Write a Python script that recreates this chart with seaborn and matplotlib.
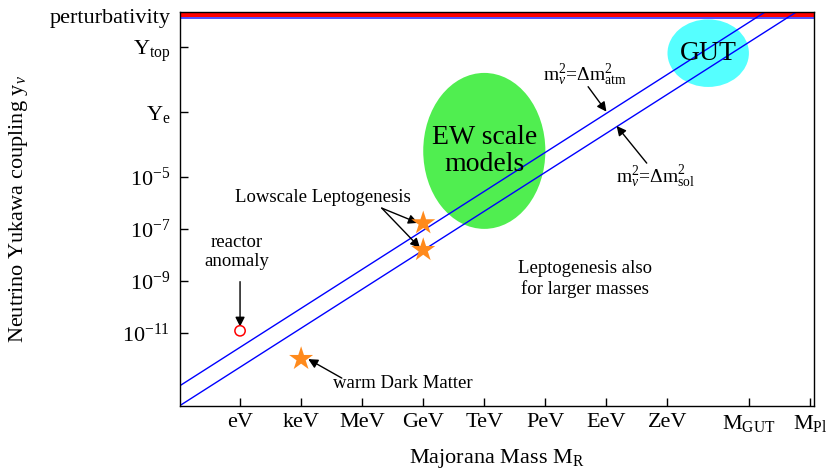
import matplotlib
matplotlib.use("Agg")
import matplotlib.pyplot as plt
import seaborn as sns
import pandas as pd
from matplotlib.patches import Ellipse

# --- data (masses in eV) ---
mass_ticks = [1e0, 1e3, 1e6, 1e9, 1e12, 1e15, 1e18, 1e21, 1e25, 1e28]
mass_labels = ["eV", "keV", "MeV", "GeV", "TeV", "PeV", "EeV", "ZeV",
               r"M$_{\mathrm{GUT}}$", r"M$_{\mathrm{Pl}}$"]
mass_range = [1.12e-3, 1.58e28]

yuk_ticks = [1e-11, 1e-9, 1e-7, 1e-5, 3.2e-3, 1.0, 15.8]
yuk_labels = [r"$10^{-11}$", r"$10^{-9}$", r"$10^{-7}$", r"$10^{-5}$",
              r"Y$_{\mathrm{e}}$", r"Y$_{\mathrm{top}}$", "perturbativity"]
yuk_range = [1.58e-14, 21.4]

# seesaw lines m_nu^2 = dm^2 (end points of each line)
line_mass = [1.12e-3, 1.58e28]
y_atm = [9.3e-14, 3.5e2]
y_sol = [1.6e-14, 6.0e1]

# perturbativity band / line
pert_band = [13.6, 21.4]
pert_line = 12.6

# points
lepto_mass = [1e9, 1e9]
lepto_yuk = [1.66e-7, 1.55e-8]
wdm_mass = [1e3]
wdm_yuk = [1e-12]
reactor_mass = [1.0]
reactor_yuk = [1.2e-11]

# regions (log10 centre, width and height in decades)
ew_region = dict(x=12.0, y=-4.0, w=6.0, h=6.0)
gut_region = dict(x=23.0, y=-0.24, w=4.0, h=2.6)

sns.set_style("ticks")
plt.rcParams["font.family"] = ["Liberation Serif", "DejaVu Serif"]
plt.rcParams["mathtext.fontset"] = "custom"
plt.rcParams["mathtext.rm"] = "Liberation Serif"
plt.rcParams["mathtext.it"] = "Liberation Serif:italic"
plt.rcParams["mathtext.bf"] = "Liberation Serif:bold"
plt.rcParams["text.color"] = "black"
plt.rcParams["axes.labelcolor"] = "black"

fig = plt.figure(figsize=(8.26, 4.69), dpi=100)
ax = fig.add_axes([0.2179, 0.135, 0.7676, 0.8387])
ax.set_xscale("log")
ax.set_yscale("log")
ax.set_xlim(mass_range)
ax.set_ylim(yuk_range)

log_tr = ax.transLimits + ax.transAxes
ax.add_patch(Ellipse((ew_region["x"], ew_region["y"]), ew_region["w"], ew_region["h"],
                     transform=log_tr, facecolor="#50EE50", edgecolor="none", zorder=1))
ax.add_patch(Ellipse((gut_region["x"], gut_region["y"]), gut_region["w"], gut_region["h"],
                     transform=log_tr, facecolor="#55FFFF", edgecolor="none", zorder=1))

ax.axhspan(pert_band[0], pert_band[1], color="red", zorder=2, lw=0)
ax.axhline(pert_line, color="#4040FF", lw=1.3, zorder=2)

lines = pd.DataFrame({
    "mass": line_mass * 2,
    "yuk": y_atm + y_sol,
    "kind": ["atm"] * 2 + ["sol"] * 2,
})
sns.lineplot(data=lines, x="mass", y="yuk", hue="kind", palette=["#0000FF", "#0000FF"],
             lw=1, legend=False, ax=ax, zorder=3)

sns.scatterplot(x=lepto_mass + wdm_mass, y=lepto_yuk + wdm_yuk, marker="*", s=330,
                color="#FF8A1C", edgecolor="none", ax=ax, zorder=4)
ax.scatter(reactor_mass, reactor_yuk, marker="o", s=55, facecolors="none",
           edgecolors="red", linewidths=1.1, zorder=4)

ax.text(10**ew_region["x"], 10**ew_region["y"], "EW scale\nmodels", fontsize=20,
        ha="center", va="center", linespacing=1.1, zorder=5)
ax.text(10**gut_region["x"], 10**gut_region["y"], "GUT", fontsize=20,
        ha="center", va="center", zorder=5)

arrow = dict(arrowstyle="-|>", color="black", lw=1, mutation_scale=14, shrinkA=0, shrinkB=0)
fs = 13.5

ax.text(0.639, 0.841, r"m$_\nu^2$=$\Delta$m$^2_{\mathrm{atm}}$", transform=ax.transAxes,
        fontsize=14, ha="center", va="center")
ax.annotate("", xy=(10**18.0, 10**-2.49), xytext=(10**17.1, 10**-1.53), arrowprops=arrow)
ax.text(0.75, 0.583, r"m$_\nu^2$=$\Delta$m$^2_{\mathrm{sol}}$", transform=ax.transAxes,
        fontsize=14, ha="center", va="center")
ax.annotate("", xy=(10**18.5, 10**-3.04), xytext=(10**19.98, 10**-4.47), arrowprops=arrow)

ax.text(0.2248, 0.5288, "Lowscale Leptogenesis", transform=ax.transAxes,
        fontsize=fs, ha="center", va="center")
ax.annotate("", xy=(10**8.74, 10**-6.77), xytext=(10**6.96, 10**-6.2), arrowprops=arrow)
ax.annotate("", xy=(10**8.84, 10**-7.73), xytext=(10**6.96, 10**-6.2), arrowprops=arrow)

ax.text(0.0899, 0.391, "reactor\nanomaly", transform=ax.transAxes,
        fontsize=fs, ha="center", va="center", linespacing=1.2)
ax.annotate("", xy=(1.0, 10**-10.76), xytext=(1.0, 10**-9.03), arrowprops=arrow)

ax.text(0.352, 0.057, "warm Dark Matter", transform=ax.transAxes,
        fontsize=fs, ha="center", va="center")
ax.annotate("", xy=(10**3.35, 10**-12.01), xytext=(10**5.0, 10**-12.74), arrowprops=arrow)

ax.text(0.639, 0.322, "Leptogenesis also\nfor larger masses", transform=ax.transAxes,
        fontsize=fs, ha="center", va="center", linespacing=1.2)

ax.set_xticks(mass_ticks)
ax.set_xticklabels(mass_labels)
ax.set_yticks(yuk_ticks)
ax.set_yticklabels(yuk_labels)
ax.xaxis.set_minor_locator(matplotlib.ticker.NullLocator())
ax.yaxis.set_minor_locator(matplotlib.ticker.NullLocator())
ax.tick_params(axis="both", direction="in", length=6, width=1, labelsize=16,
               colors="black", top=False, right=False)
ax.tick_params(axis="x", pad=5)
ax.tick_params(axis="y", pad=7)

ax.set_xlabel(r"Majorana Mass M$_\mathrm{R}$", fontsize=16)
ax.set_ylabel(r"Neutrino Yukawa coupling y$_\nu$", fontsize=16)
ax.xaxis.set_label_coords(0.5, -0.105)
ax.yaxis.set_label_coords(-0.2366, 0.5)

for sp in ax.spines.values():
    sp.set_color("black")
    sp.set_linewidth(1)
    sp.set_zorder(6)

fig.savefig("out.png", dpi=100)
